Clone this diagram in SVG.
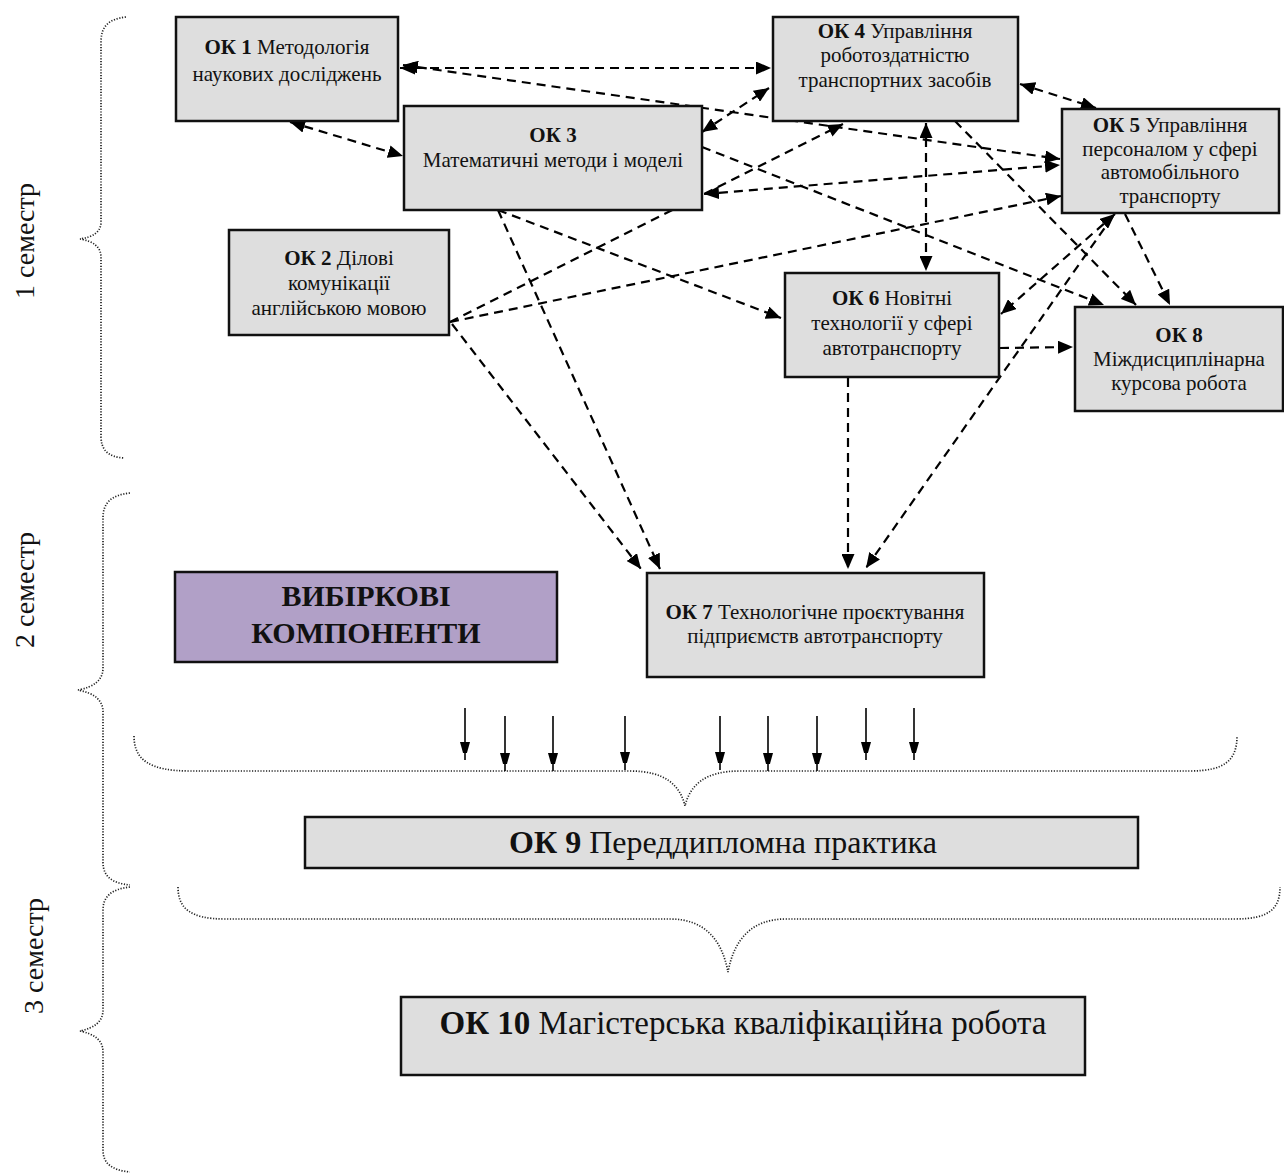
<svg xmlns="http://www.w3.org/2000/svg" width="1284" height="1176" viewBox="0 0 1284 1176">
<style>
.box{fill:#dedede;stroke:#111;stroke-width:2.5}
.t{font-family:"Liberation Serif","Times New Roman",serif;font-size:21px;fill:#111;text-anchor:middle}
.b{font-weight:bold}
.big{font-size:32px}
.sem{font-family:"Liberation Serif","Times New Roman",serif;font-size:28px;fill:#111;text-anchor:middle}
.d{fill:none;stroke:#000;stroke-width:2.2;stroke-dasharray:9 6}
.s{fill:none;stroke:#000;stroke-width:1.6}
.br{fill:none;stroke:#222;stroke-width:1.7;stroke-dasharray:1.2 1.6}
</style>
<defs>
<marker id="a" markerUnits="userSpaceOnUse" markerWidth="16" markerHeight="13" refX="15" refY="6.5" orient="auto-start-reverse">
<path d="M0,0 L15,6.5 L0,13 z" fill="#000"/>
</marker>
<marker id="s" markerUnits="userSpaceOnUse" markerWidth="11" markerHeight="19" refX="18" refY="5" orient="auto">
<path d="M0,0 L18,5 L0,10 z" fill="#000"/>
</marker>
</defs>
<rect width="1284" height="1176" fill="#fff"/>

<g id="braces">
<path class="br" d="M126,17 C108,19 101,27 101,42 L101,222 C101,232 93,237 80,239 C93,241 101,247 101,257 L101,436 C101,450 108,457 124,458"/>
<path class="br" d="M130,493 C111,495 103,503 103,518 L103,668 C103,680 94,687 78,690 C94,693 103,700 103,712 L103,862 C103,876 111,883 130,885"/>
<path class="br" d="M130,887 C111,889 103,897 103,910 L103,1010 C103,1022 94,1028 80,1031 C94,1034 103,1040 103,1052 L103,1150 C103,1163 111,1170 130,1172"/>
<path class="br" d="M134,736 C134,760 150,771 190,771 L630,771 C665,771 680,785 685,806 C690,785 705,771 740,771 L1190,771 C1225,771 1237,760 1237,736"/>
<path class="br" d="M178,887 C178,908 190,919 225,919 L670,919 C705,919 722,940 728,972 C734,940 751,919 786,919 L1235,919 C1270,919 1280,908 1280,887"/>
</g>

<g id="labels">
<text class="sem" x="34" y="241" transform="rotate(-90 34 241)">1 семестр</text>
<text class="sem" x="34" y="590" transform="rotate(-90 34 590)">2 семестр</text>
<text class="sem" x="43" y="956" transform="rotate(-90 43 956)">3 семестр</text>
</g>

<g id="connectors">
<line class="d" x1="400" y1="68" x2="771" y2="68" marker-start="url(#a)" marker-end="url(#a)"/>
<line class="d" x1="403" y1="65" x2="1060" y2="159" marker-start="url(#a)" marker-end="url(#a)"/>
<line class="d" x1="290" y1="122" x2="403" y2="156" marker-start="url(#a)" marker-end="url(#a)"/>
<line class="d" x1="702" y1="132" x2="769" y2="88" marker-start="url(#a)" marker-end="url(#a)"/>
<line class="d" x1="704" y1="194" x2="1060" y2="165" marker-start="url(#a)" marker-end="url(#a)"/>
<line class="d" x1="1020" y1="84" x2="1096" y2="108" marker-start="url(#a)" marker-end="url(#a)"/>
<line class="d" x1="450" y1="322" x2="843" y2="124" marker-end="url(#a)"/>
<line class="d" x1="450" y1="322" x2="1061" y2="196" marker-end="url(#a)"/>
<line class="d" x1="926" y1="123" x2="926" y2="271" marker-start="url(#a)" marker-end="url(#a)"/>
<line class="d" x1="955" y1="121" x2="1136" y2="305" marker-end="url(#a)"/>
<line class="d" x1="702" y1="147" x2="1104" y2="305" marker-end="url(#a)"/>
<line class="d" x1="1125" y1="214" x2="1170" y2="305" marker-end="url(#a)"/>
<line class="d" x1="1115" y1="214" x2="1001" y2="314" marker-start="url(#a)" marker-end="url(#a)"/>
<line class="d" x1="1113" y1="216" x2="866" y2="568" marker-end="url(#a)"/>
<line class="d" x1="1000" y1="348" x2="1073" y2="347" marker-end="url(#a)"/>
<line class="d" x1="848" y1="378" x2="848" y2="569" marker-end="url(#a)"/>
<line class="d" x1="498" y1="210" x2="660" y2="569" marker-end="url(#a)"/>
<line class="d" x1="452" y1="324" x2="641" y2="569" marker-end="url(#a)"/>
<line class="d" x1="498" y1="210" x2="781" y2="318" marker-end="url(#a)"/>
<line class="s" x1="465" y1="708" x2="465" y2="760" marker-end="url(#s)"/>
<line class="s" x1="505" y1="716" x2="505" y2="771" marker-end="url(#s)"/>
<line class="s" x1="553" y1="716" x2="553" y2="771" marker-end="url(#s)"/>
<line class="s" x1="625" y1="716" x2="625" y2="770" marker-end="url(#s)"/>
<line class="s" x1="720" y1="716" x2="720" y2="770" marker-end="url(#s)"/>
<line class="s" x1="768" y1="716" x2="768" y2="771" marker-end="url(#s)"/>
<line class="s" x1="817" y1="716" x2="817" y2="771" marker-end="url(#s)"/>
<line class="s" x1="866" y1="708" x2="866" y2="760" marker-end="url(#s)"/>
<line class="s" x1="914" y1="708" x2="914" y2="760" marker-end="url(#s)"/>
</g>

<g id="ok1">
<rect class="box" x="176" y="17" width="222" height="104"/>
<text class="t" x="287" y="54"><tspan class="b">ОК 1</tspan> Методологія</text>
<text class="t" x="287" y="81">наукових досліджень</text>
</g>
<g id="ok3">
<rect class="box" x="404" y="106" width="298" height="104"/>
<text class="t b" x="553" y="142">ОК 3</text>
<text class="t" x="553" y="167">Математичні методи і моделі</text>
</g>
<g id="ok4">
<rect class="box" x="773" y="17" width="245" height="104"/>
<text class="t" x="895" y="38"><tspan class="b">ОК 4</tspan> Управління</text>
<text class="t" x="895" y="62">роботоздатністю</text>
<text class="t" x="895" y="87">транспортних засобів</text>
</g>
<g id="ok5">
<rect class="box" x="1062" y="109" width="217" height="104"/>
<text class="t" x="1170" y="132"><tspan class="b">ОК 5</tspan> Управління</text>
<text class="t" x="1170" y="156">персоналом у сфері</text>
<text class="t" x="1170" y="179">автомобільного</text>
<text class="t" x="1170" y="203">транспорту</text>
</g>
<g id="ok2">
<rect class="box" x="229" y="230" width="220" height="105"/>
<text class="t" x="339" y="265"><tspan class="b">ОК 2</tspan> Ділові</text>
<text class="t" x="339" y="290">комунікації</text>
<text class="t" x="339" y="315">англійською мовою</text>
</g>
<g id="ok6">
<rect class="box" x="785" y="273" width="214" height="104"/>
<text class="t" x="892" y="305"><tspan class="b">ОК 6</tspan> Новітні</text>
<text class="t" x="892" y="330">технології у сфері</text>
<text class="t" x="892" y="355">автотранспорту</text>
</g>
<g id="ok8">
<rect class="box" x="1075" y="307" width="208" height="104"/>
<text class="t b" x="1179" y="342">ОК 8</text>
<text class="t" x="1179" y="366">Міждисциплінарна</text>
<text class="t" x="1179" y="390">курсова робота</text>
</g>
<g id="ok7">
<rect class="box" x="647" y="573" width="337" height="104"/>
<text class="t" x="815" y="619"><tspan class="b">ОК 7</tspan> Технологічне проєктування</text>
<text class="t" x="815" y="643">підприємств автотранспорту</text>
</g>
<g id="vybirkovi">
<rect x="175" y="572" width="382" height="90" fill="#b1a0c7" stroke="#111" stroke-width="2.5"/>
<text class="t b" x="366" y="606" style="font-size:30px">ВИБІРКОВІ</text>
<text class="t b" x="366" y="643" style="font-size:30px">КОМПОНЕНТИ</text>
</g>
<g id="ok9">
<rect class="box" x="305" y="817" width="833" height="51"/>
<text class="t big" x="723" y="853"><tspan class="b">ОК 9</tspan> Переддипломна практика</text>
</g>
<g id="ok10">
<rect class="box" x="401" y="997" width="684" height="78"/>
<text class="t big" x="743" y="1034" style="font-size:33px"><tspan class="b">ОК 10</tspan> Магістерська кваліфікаційна робота</text>
</g>
</svg>
